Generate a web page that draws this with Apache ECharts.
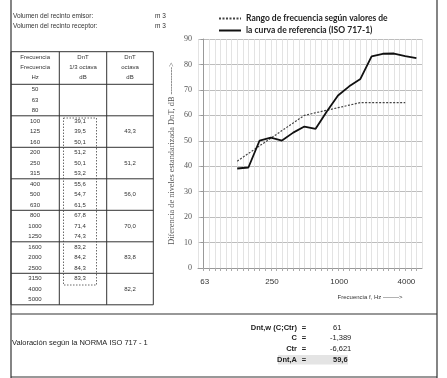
<!DOCTYPE html>
<html>
<head>
<meta charset="utf-8">
<script src="https://cdn.jsdelivr.net/npm/echarts@6/dist/echarts.min.js"></script>
<style>
  html, body { margin: 0; padding: 0; background: #fff; }
  #chart { width: 447px; height: 378px; }
</style>
</head>
<body>
<div id="chart"></div>
<script>
// bandas de 1/3 de octava
const bands = ['50','63','80','100','125','160','200','250','315','400','500','630','800','1000','1250','1600','2000','2500','3150','4000','5000'];
// DnT medido (tabla + curva)
const dntThird = [null,null,null,39.1,39.5,50.1,51.2,50.1,53.2,55.6,54.7,61.5,67.8,71.4,74.3,83.2,84.2,84.3,83.3,null,null];
const measuredCurve = [null,null,null,39.1,39.5,50.1,51.2,50.1,53.2,55.6,54.7,61.5,67.8,71.4,74.3,83.2,84.2,84.3,83.3,82.5,null];
// curva de referencia desplazada (ISO 717-1)
const referenceCurve = [null,null,null,42,45,48,51,54,57,60,61,62,63,64,65,65,65,65,65,null,null];
// valores por octava (fila central de cada grupo)
const octaveRows = [4,7,10,13,16,19];
const octaveValues = [43.3,51.2,56.0,70.0,83.8,82.2];
const xLabelBands = ['63','250','1000','4000'];
const resultLabels = ['Dnt,w (C;Ctr)','C','Ctr','Dnt,A'];
const resultValues = ['61','-1,389','-6,621','59,6'];

const fmt = v => v.toFixed(1).replace('.', ',');
const toPoints = arr => arr.map((v, i) => [i, v]).filter(p => p[1] !== null);

const chart = echarts.init(document.getElementById('chart'), null, { renderer: 'canvas' });

// --- tabla y textos ---
const g = [];
const txt = (text, x, y, opt) => g.push({
  type: 'text', silent: true,
  style: Object.assign({ text, x, y, font: '6px "Liberation Sans"', fill: '#333', textAlign: 'left', textVerticalAlign: 'middle' }, opt || {})
});
const ln = (x1, y1, x2, y2, w, dash) => g.push({
  type: 'line', silent: true,
  shape: { x1, y1, x2, y2 },
  style: { stroke: '#333', lineWidth: w || 1, lineDash: dash || null }
});

// marco
ln(11, 0, 11, 378, 1.2);
ln(437, 0, 437, 378, 1.2);
ln(11, 314, 437, 314, 1.2);
ln(11, 377, 437, 377, 1.2);

txt('Volumen del recinto emisor:', 13, 16, { font: '6.5px "Liberation Sans"' });
txt('Volumen del recinto receptor:', 13, 26, { font: '6.5px "Liberation Sans"' });
txt('m 3', 155, 16, { font: '6.5px "Liberation Sans"' });
txt('m 3', 155, 26, { font: '6.5px "Liberation Sans"' });

const colX = [11, 59.3, 106.7, 153.3];
const tTop = 51.7, hBottom = 84.3, rowH = 10.5;
const tBottom = hBottom + rowH * bands.length;
colX.forEach(x => ln(x, tTop, x, tBottom, 1));
ln(11, tTop, 153.3, tTop, 1);
for (let k = 0; k <= 7; k++) {
  const y = hBottom + k * rowH * 3;
  ln(11, y, 153.3, y, 1);
}
const heads = [['Frecuencia','Frecuencia','Hz'],['DnT','1/3 octava','dB'],['DnT','octava','dB']];
heads.forEach((h, c) => {
  const cx = (colX[c] + colX[c + 1]) / 2;
  h.forEach((t, r) => txt(t, cx, 57 + r * 10, { textAlign: 'center' }));
});
bands.forEach((b, i) => {
  const cy = hBottom + rowH * (i + 0.5);
  txt(b, 35, cy, { textAlign: 'center' });
  if (dntThird[i] !== null) txt(fmt(dntThird[i]), 80, cy, { textAlign: 'center' });
});
octaveRows.forEach((r, k) => txt(fmt(octaveValues[k]), 130, hBottom + rowH * (r + 0.5), { textAlign: 'center' }));
g.push({
  type: 'rect', silent: true,
  shape: { x: 63.5, y: 118, width: 33, height: 167 },
  style: { fill: null, stroke: '#444', lineWidth: 0.8, lineDash: [1.5, 1.5] }
});

// valoración
txt('Valoración según la NORMA ISO 717 - 1', 12, 343, { font: '7.5px "Liberation Sans"', fill: '#222' });
g.push({ type: 'rect', silent: true, shape: { x: 278, y: 355, width: 70, height: 9.5 }, style: { fill: '#e4e4e4' } });
resultLabels.forEach((l, k) => {
  const y = 327.5 + k * 10.8;
  txt(l, 297, y, { textAlign: 'right', font: 'bold 7.5px "Liberation Sans"', fill: '#222' });
  txt('=', 304, y, { textAlign: 'center', font: 'bold 7.5px "Liberation Sans"', fill: '#222' });
  txt(resultValues[k], k === 0 ? 333 : (k === 3 ? 333 : 330), y, {
    font: (k === 3 ? 'bold ' : '') + '7.5px "Liberation Sans"', fill: '#222'
  });
});

const option = {
  animation: false,
  backgroundColor: '#fff',
  grid: { left: 198, right: 25, top: 39, bottom: 110, containLabel: false },
  legend: {
    orient: 'vertical', left: 213, top: 9, itemGap: 3,
    itemWidth: 22, itemHeight: 8,
    itemStyle: { opacity: 0 },
    textStyle: { fontFamily: 'Lato', fontWeight: 'bold', fontSize: 8.5, color: '#222' },
    data: ['Rango de frecuencia según valores de', 'la curva de referencia (ISO 717-1)']
  },
  xAxis: {
    type: 'value', min: -0.5, max: 19.5, interval: 0.5,
    axisLine: { lineStyle: { color: '#999' } },
    axisTick: { show: true, length: 3, lineStyle: { color: '#aaa' } },
    splitLine: { show: true, lineStyle: { color: '#dcdcdc', width: 0.8 } },
    axisLabel: {
      margin: 10, color: '#333', fontFamily: 'Liberation Sans', fontSize: 8,
      padding: [0, 20, 0, 0],
      formatter: v => (Number.isInteger(v) && xLabelBands.includes(bands[v])) ? bands[v] : '',
      showMinLabel: false, showMaxLabel: false
    },
    name: 'Frecuencia f, Hz -------->',
    nameLocation: 'middle', nameGap: 26,
    nameTextStyle: { fontFamily: 'Liberation Sans', fontSize: 6, color: '#333', padding: [0, 0, 0, 120] }
  },
  yAxis: {
    type: 'value', min: 0, max: 90, interval: 10,
    axisLine: { show: true, lineStyle: { color: '#999' } },
    axisTick: { show: true, length: 3, lineStyle: { color: '#999' } },
    splitLine: { lineStyle: { color: '#bdbdbd', width: 1 } },
    axisLabel: { margin: 6, color: '#555', fontFamily: 'Liberation Serif', fontSize: 8 },
    name: 'Diferencia de niveles estandarizada DnT, dB ---------->',
    nameLocation: 'middle', nameRotate: 90, nameGap: 22,
    nameMoveOverlap: false,
    nameTextStyle: { fontFamily: 'Liberation Serif', fontSize: 8.3, color: '#555' }
  },
  series: [
    {
      name: 'Rango de frecuencia según valores de', type: 'line',
      data: toPoints(referenceCurve), symbol: 'none',
      lineStyle: { color: '#444', width: 1.2, type: [2, 1.5] }, itemStyle: { color: '#444' }
    },
    {
      name: 'la curva de referencia (ISO 717-1)', type: 'line',
      data: toPoints(measuredCurve), symbol: 'none',
      lineStyle: { color: '#111', width: 1.8 }, itemStyle: { color: '#111' }
    }
  ],
  graphic: g
};
chart.setOption(option);
</script>
</body>
</html>
